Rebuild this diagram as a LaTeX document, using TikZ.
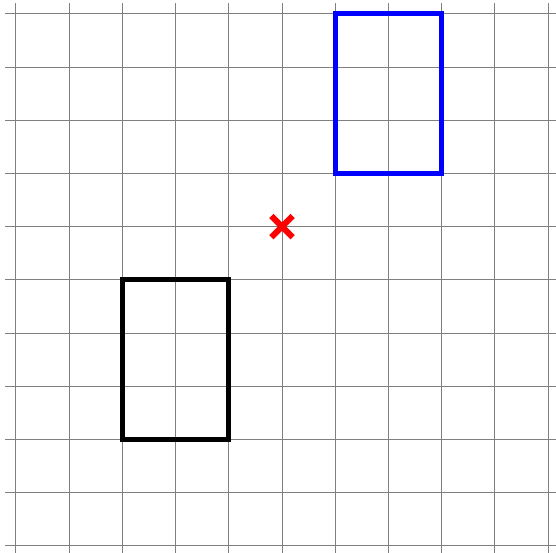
\documentclass[tikz,border=0pt]{standalone}
\usepackage{tikz}
\usetikzlibrary{positioning,calc}

\begin{document}
\begin{tikzpicture}[
  gridline/.style={draw=black!50, line width=0.5pt},
  box/.style={line width=2.7pt},
  mark cross/.style={draw=red, line width=3.2pt}]
\useasboundingbox (-0.3,-0.13) rectangle (10.15,10.26);
\draw[gridline] (-0.2,-0.2) grid (10.2,10.2);
\draw[box, black] (2,2) rectangle (4,5);
\draw[box, blue] (6,7) rectangle (8,10);
\coordinate (c) at (5,6);
\draw[mark cross] ($(c)+(-0.2,-0.2)$) -- ($(c)+(0.2,0.2)$)
  ($(c)+(-0.2,0.2)$) -- ($(c)+(0.2,-0.2)$);
\end{tikzpicture}
\end{document}
